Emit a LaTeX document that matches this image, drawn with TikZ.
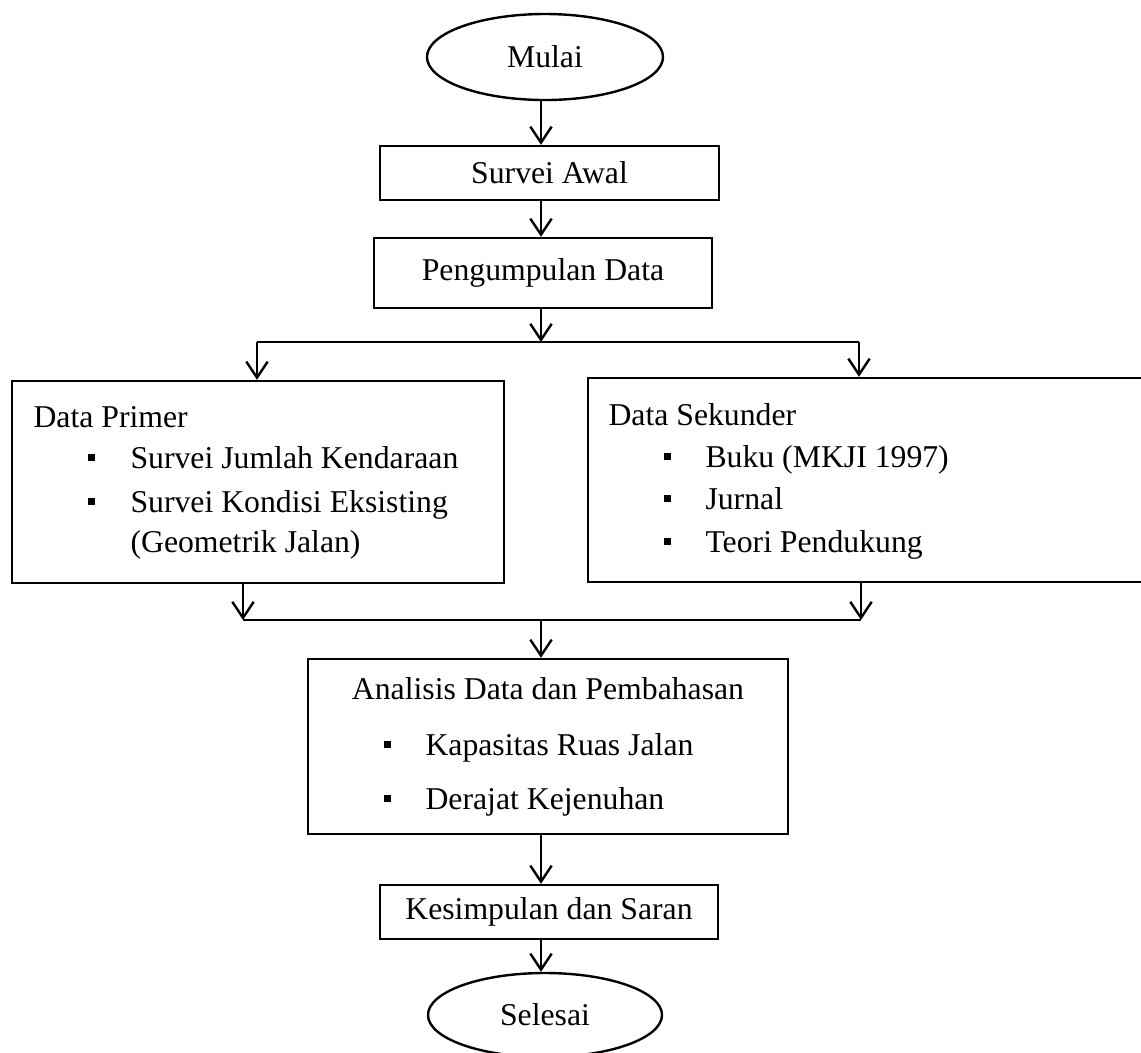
\documentclass[tikz,border=0pt]{standalone}
\usepackage{fontspec}
\setmainfont{Liberation Serif}
\usetikzlibrary{shapes.geometric,arrows.meta}
\begin{document}
\begin{tikzpicture}[x=0.375pt,y=-0.375pt,
  every node/.style={font=\fontsize{11.9}{14}\selectfont, inner sep=0pt},
  box/.style={draw, line width=0.9pt, rectangle},
  oval/.style={draw, line width=0.9pt, ellipse},
  arr/.style={line width=0.9pt, -{Straight Barb[length=6pt,width=8pt]}},
  ln/.style={line width=0.9pt},
  txt/.style={anchor=base west},
  bul/.style={anchor=base west}]
\useasboundingbox (0,0) rectangle (1141,1052);
\fill[white] (0,0) rectangle (1141,1052);
% main nodes
\node[oval, minimum width=88.5pt, minimum height=32.25pt] (mulai) at (545,57) {Mulai};
\node[box, minimum width=127.1pt, minimum height=20.25pt] (awal) at (549.5,173) {Survei Awal};
\node[box, minimum width=126.75pt, minimum height=26.25pt] (kumpul) at (543,273) {Pengumpulan Data};
\node[box, minimum width=184.5pt, minimum height=75.75pt] (primer) at (258,482) {};
\node[box, minimum width=214.5pt, minimum height=76.5pt] (sekunder) at (874,480) {};
\node[box, minimum width=180pt, minimum height=65.6pt] (analisis) at (548,746.5) {};
\node[box, minimum width=126.75pt, minimum height=20.25pt] (simpul) at (549,912) {Kesimpulan dan Saran};
\node[oval, minimum width=87.75pt, minimum height=31.5pt] (selesai) at (545,1015) {Selesai};
% Data Primer text
\node[txt] (tp0) at (33,427) {Data Primer};
\node[bul] (bp1) at (87,468) {\rule[2.5pt]{2.9pt}{2.9pt}};
\node[txt] (tp1) at (130,468) {Survei Jumlah Kendaraan};
\node[bul] (bp2) at (87,512) {\rule[2.5pt]{2.9pt}{2.9pt}};
\node[txt] (tp2) at (130,512) {Survei Kondisi Eksisting};
\node[txt] (tp3) at (130,552) {(Geometrik Jalan)};
% Data Sekunder text
\node[txt] (ts0) at (608,425) {Data Sekunder};
\node[bul] (bs1) at (663,467) {\rule[2.5pt]{2.9pt}{2.9pt}};
\node[txt] (ts1) at (705,467) {Buku (MKJI 1997)};
\node[bul] (bs2) at (663,509) {\rule[2.5pt]{2.9pt}{2.9pt}};
\node[txt] (ts2) at (705,509) {Jurnal};
\node[bul] (bs3) at (663,552) {\rule[2.5pt]{2.9pt}{2.9pt}};
\node[txt] (ts3) at (705,552) {Teori Pendukung};
% Analisis text
\node[anchor=base] (ta0) at (548,699) {Analisis Data dan Pembahasan};
\node[bul] (ba1) at (383,755) {\rule[2.5pt]{2.9pt}{2.9pt}};
\node[txt] (ta1) at (425,755) {Kapasitas Ruas Jalan};
\node[bul] (ba2) at (383,809) {\rule[2.5pt]{2.9pt}{2.9pt}};
\node[txt] (ta2) at (425,809) {Derajat Kejenuhan};
% connectors
\coordinate (spine) at (541,0);
\draw[arr] (spine |- mulai.south) -- (spine |- awal.north);
\draw[arr] (spine |- awal.south) -- (spine |- kumpul.north);
\coordinate (bl) at (257,342);
\coordinate (br) at (859,342);
\draw[arr] (spine |- kumpul.south) -- (spine |- bl);
\draw[ln] (bl) -- (br);
\draw[arr] (bl) -- (bl |- primer.north);
\draw[arr] (br) -- (br |- sekunder.north);
\coordinate (jl) at (243,620);
\coordinate (jr) at (861,620);
\draw[arr] (jl |- primer.south) -- (jl);
\draw[arr] (jr |- sekunder.south) -- (jr);
\draw[ln] (jl) -- (jr);
\draw[arr] (spine |- jl) -- (spine |- analisis.north);
\draw[arr] (spine |- analisis.south) -- (spine |- simpul.north);
\draw[arr] (spine |- simpul.south) -- (spine |- selesai.north);
\end{tikzpicture}
\end{document}
